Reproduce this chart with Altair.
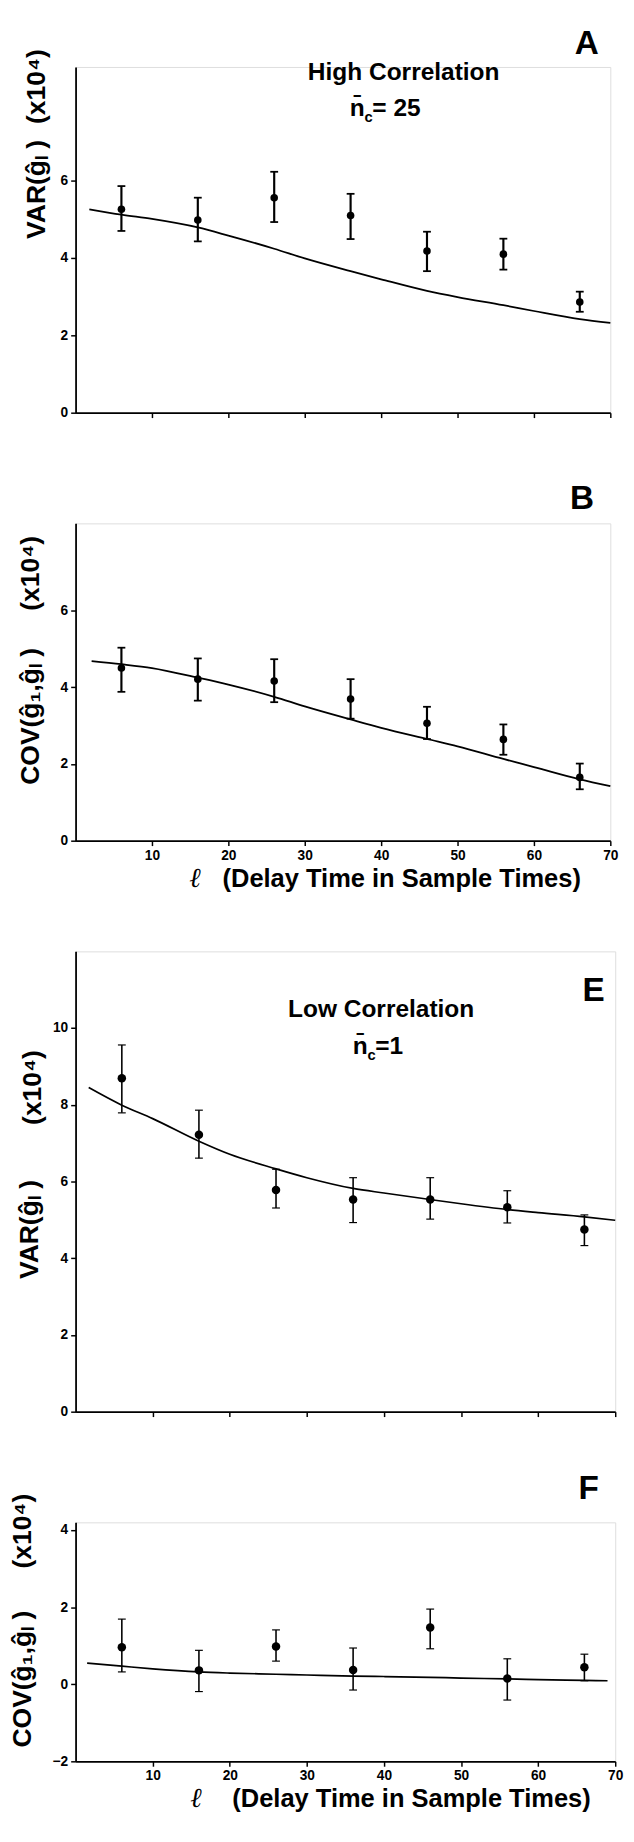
import altair as alt
import pandas as pd

FONT = "Liberation Sans"

# ---------------- data ----------------
lags = [6, 16, 26, 36, 46, 56, 66]
x_ticks = [10, 20, 30, 40, 50, 60, 70]

# Panel A: VAR, high correlation
a_mean = [5.26, 4.98, 5.56, 5.10, 4.18, 4.10, 2.86]
a_hi = [5.86, 5.56, 6.23, 5.66, 4.68, 4.50, 3.13]
a_lo = [4.70, 4.43, 4.93, 4.49, 3.66, 3.70, 2.61]
a_curve_x = [1.8, 6, 10, 16, 20, 26, 30, 36, 40, 46, 50, 56, 60, 66, 70]
a_curve_y = [5.26, 5.12, 5.01, 4.79, 4.58, 4.24, 3.99, 3.66, 3.45, 3.15, 2.99, 2.78, 2.63, 2.42, 2.32]

# Panel B: COV, high correlation
b_mean = [4.50, 4.21, 4.16, 3.69, 3.06, 2.64, 1.65]
b_hi = [5.03, 4.75, 4.73, 4.21, 3.49, 3.03, 2.01]
b_lo = [3.88, 3.65, 3.61, 3.18, 2.65, 2.24, 1.34]
b_curve_x = [2.1, 6, 10, 16, 20, 26, 30, 36, 40, 46, 50, 56, 60, 66, 70]
b_curve_y = [4.68, 4.60, 4.50, 4.25, 4.07, 3.75, 3.50, 3.16, 2.94, 2.65, 2.46, 2.13, 1.92, 1.60, 1.42]

# Panel E: VAR, low correlation
e_mean = [8.69, 7.22, 5.78, 5.53, 5.53, 5.33, 4.75]
e_hi = [9.56, 7.86, 6.32, 6.10, 6.10, 5.76, 5.13]
e_lo = [7.79, 6.61, 5.31, 4.93, 5.02, 4.92, 4.33]
e_curve_x = [1.7, 6, 10, 16, 20, 26, 30, 36, 40, 46, 50, 56, 60, 66, 70]
e_curve_y = [8.45, 7.99, 7.64, 7.05, 6.71, 6.33, 6.10, 5.82, 5.70, 5.53, 5.42, 5.27, 5.19, 5.08, 4.99]

# Panel F: COV, low correlation
f_mean = [0.96, 0.36, 0.98, 0.37, 1.47, 0.15, 0.44]
f_hi = [1.69, 0.88, 1.41, 0.94, 1.95, 0.66, 0.78]
f_lo = [0.32, -0.19, 0.60, -0.15, 0.92, -0.41, 0.09]
f_curve_x = [1.5, 6, 10, 16, 20, 26, 30, 36, 40, 46, 50, 56, 60, 66, 69]
f_curve_y = [0.55, 0.47, 0.40, 0.32, 0.29, 0.26, 0.24, 0.21, 0.20, 0.18, 0.16, 0.14, 0.12, 0.10, 0.09]


def txt(s, x, y, size, weight="normal", angle=0, align="center", baseline="middle",
        font=FONT, style="normal"):
    kw = dict(fontSize=size, fontWeight=weight, align=align, baseline=baseline,
              font=font, color="black", fontStyle=style)
    if angle:
        kw["angle"] = angle
    return alt.Chart(pd.DataFrame({"t": [s]})).mark_text(**kw).encode(
        text="t:N", x=alt.value(x), y=alt.value(y))


AXIS_STYLE = dict(
    grid=False, labelFlush=False, labelOverlap=False, title=None,
    domainColor="black", domainWidth=1.8, tickColor="black", tickWidth=1.5, tickSize=5,
    labelColor="black", labelFont=FONT, labelFontSize=14, labelFontWeight="bold",
    labelPadding=3,
)


def panel(mean, hi, lo, cx, cy, ydom, yvals, width, height, xlabels, texts,
          dot=60, ew=2.2, lw=1.8):
    pts = pd.DataFrame({"lag": lags, "mean": mean, "hi": hi, "lo": lo})
    cur = pd.DataFrame({"lag": cx, "val": cy})
    xscale = alt.Scale(domain=[0, 70], nice=False, zero=False)
    yscale = alt.Scale(domain=ydom, nice=False, zero=False)
    xaxis = alt.Axis(values=x_ticks, labels=xlabels, **AXIS_STYLE)
    yaxis = alt.Axis(values=yvals, format="d", **AXIS_STYLE)

    def X(f):
        return alt.X(f, type="quantitative", scale=xscale, axis=xaxis)

    def Y(f):
        return alt.Y(f, type="quantitative", scale=yscale, axis=yaxis)

    line = alt.Chart(cur).mark_line(color="black", strokeWidth=lw,
                                    interpolate="monotone").encode(x=X("lag"), y=Y("val"))
    bars = alt.Chart(pts).mark_rule(color="black", strokeWidth=ew).encode(
        x=X("lag"), y=Y("lo"), y2="hi")
    cap_hi = alt.Chart(pts).mark_rule(color="black", strokeWidth=ew - 0.4,
                                      xOffset=-4, x2Offset=4).encode(
        x=X("lag"), x2="lag", y=Y("hi"))
    cap_lo = alt.Chart(pts).mark_rule(color="black", strokeWidth=ew - 0.4,
                                      xOffset=-4, x2Offset=4).encode(
        x=X("lag"), x2="lag", y=Y("lo"))
    dots = alt.Chart(pts).mark_circle(color="black", opacity=1, size=dot).encode(
        x=X("lag"), y=Y("mean"))
    return alt.layer(line, bars, cap_hi, cap_lo, dots, *texts).properties(
        width=width, height=height)


YT = 27  # y-title font size
TT = 25  # in-plot title font size

panel_a = panel(
    a_mean, a_hi, a_lo, a_curve_x, a_curve_y, [0, 8.94], [0, 2, 4, 6], 546, 353, False,
    [
        txt("A", 522, -23, 34, "bold"),
        txt("High Correlation", 335, 13, TT, "bold", baseline="alphabetic"),
        txt("n\u0304", 280, 50, TT, "bold", align="left", baseline="alphabetic"),
        txt("c", 295, 56, 15, "bold", align="left", baseline="alphabetic"),
        txt("= 25", 303, 50, TT, "bold", align="left", baseline="alphabetic"),
        txt("VAR(\u011d\u2097 )", -39, 125, YT, "bold", angle=270),
        txt("(x10\u2074)", -39, 20, YT, "bold", angle=270),
    ],
)

panel_b = panel(
    b_mean, b_hi, b_lo, b_curve_x, b_curve_y, [0, 8.27], [0, 2, 4, 6], 546, 324, True,
    [
        txt("B", 517, -25, 34, "bold"),
        txt("COV(\u011d\u2081,\u011d\u2097 )", -45, 197, YT, "bold", angle=270),
        txt("(x10\u2074)", -45, 51, YT, "bold", angle=270),
        txt("\u2113", 122, 371, 28, baseline="alphabetic", font="DejaVu Serif", style="italic"),
        txt("(Delay Time in Sample Times)", 333, 371, 26, "bold", baseline="alphabetic"),
    ],
)

panel_e = panel(
    e_mean, e_hi, e_lo, e_curve_x, e_curve_y, [0, 12], [0, 2, 4, 6, 8, 10], 551, 470, False,
    [
        txt("E", 529, 41, 34, "bold"),
        txt("Low Correlation", 312, 67, TT, "bold", baseline="alphabetic"),
        txt("n\u0304", 283, 105, TT, "bold", align="left", baseline="alphabetic"),
        txt("c", 298, 111, 15, "bold", align="left", baseline="alphabetic"),
        txt("=1", 306, 105, TT, "bold", align="left", baseline="alphabetic"),
        txt("VAR(\u011d\u2097 )", -46, 284, YT, "bold", angle=270),
        txt("(x10\u2074)", -43, 139, YT, "bold", angle=270),
    ],
    dot=75, ew=1.6, lw=1.7,
)

panel_f = panel(
    f_mean, f_hi, f_lo, f_curve_x, f_curve_y, [-2, 4.2], [-2, 0, 2, 4], 551, 244, True,
    [
        txt("F", 524, -34, 34, "bold"),
        txt("COV(\u011d\u2081,\u011d\u2097 )", -54, 160, YT, "bold", angle=270),
        txt("(x10\u2074)", -54, 9, YT, "bold", angle=270),
        txt("\u2113", 123, 291, 28, baseline="alphabetic", font="DejaVu Serif", style="italic"),
        txt("(Delay Time in Sample Times)", 343, 291, 26, "bold", baseline="alphabetic"),
    ],
    dot=75, ew=1.6, lw=1.7,
)

chart = alt.vconcat(panel_a, panel_b, panel_e, panel_f, spacing=113, bounds="flush").properties(
    padding={"left": 0, "top": 0, "right": 2, "bottom": 2}
).configure_view(stroke=None).configure(background="white")

chart.save("out.html", embed_options={"renderer": "svg", "actions": False})
